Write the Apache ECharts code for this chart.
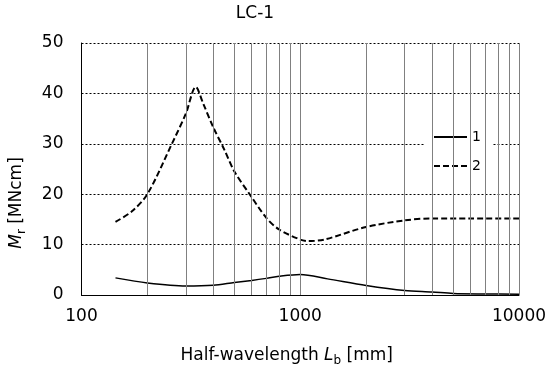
<!DOCTYPE html>
<html>
<head>
<meta charset="utf-8">
<script src="https://cdn.jsdelivr.net/npm/echarts@6/dist/echarts.min.js"></script>
<style>html,body{margin:0;padding:0;background:#fff}#c{width:550px;height:372px}</style>
</head>
<body>
<div id="c"></div>
<script>
// Series 1 (solid)
var L1 = [143, 200, 300, 400, 500, 600, 700, 800, 1000, 1333, 2000, 3000, 4000, 5000, 7000, 10000];
var M1 = [3.4, 2.4, 1.8, 1.95, 2.5, 2.9, 3.3, 3.7, 4.05, 3.2, 1.9, 0.9, 0.6, 0.3, 0.2, 0.15];
// Series 2 (dashed)
var L2 = [143, 170, 200, 259, 300, 333, 360, 400, 450, 500, 587, 700, 800, 1000, 1090, 1290, 2000, 3000, 4000, 6000, 10000];
var M2 = [14.5, 16.6, 20.0, 30.0, 36.0, 41.3, 38.0, 33.3, 28.8, 24.5, 20.0, 15.3, 13.0, 11.0, 10.7, 11.0, 13.5, 14.8, 15.2, 15.2, 15.2];
// Vertical grid lines (log decades)
var vGrid = [200, 300, 400, 500, 600, 700, 800, 900, 1000, 2000, 3000, 4000, 5000, 6000, 7000, 8000, 9000, 10000];
var xTicks = [100, 1000, 10000];
var yTicks = [0, 10, 20, 30, 40, 50];

var FONT = 'DejaVu Sans';
function pairs(xs, ys) { return xs.map(function (x, i) { return [x, ys[i]]; }); }

var chart = echarts.init(document.getElementById('c'), null, {renderer: 'canvas'});
chart.setOption({
  animation: false,
  backgroundColor: '#fff',
  textStyle: {fontFamily: FONT, color: '#000'},
  grid: {left: 79, right: 31, top: 43, bottom: 74},
  graphic: [{
    type: 'text', x: 255, y: 13.5,
    style: {text: 'LC-1', fontFamily: FONT, fontSize: 17, fill: '#000', textAlign: 'center', textVerticalAlign: 'middle'}
  }],
  legend: {
    data: ['1', '2'],
    orient: 'vertical', left: 425, top: 122,
    padding: [8, 12, 6, 8],
    itemWidth: 33, itemHeight: 14, itemGap: 15,
    backgroundColor: '#fff',
    itemStyle: {opacity: 0, borderWidth: 0},
    textStyle: {fontFamily: FONT, fontSize: 14, color: '#000'}
  },
  xAxis: {
    type: 'log', logBase: 10, min: xTicks[0], max: xTicks[xTicks.length - 1],
    axisLine: {show: true, lineStyle: {color: '#000', width: 1}},
    axisTick: {show: false},
    splitLine: {show: false},
    axisLabel: {fontFamily: FONT, fontSize: 17, color: '#000', margin: 13,
      formatter: function (v) { return String(Math.round(v)); }},
    name: 'Half-wavelength {i|L}{s|b} [mm]',
    nameLocation: 'middle', nameGap: 50,
    nameTextStyle: {fontFamily: FONT, fontSize: 17, color: '#000', padding: [0, 27, 0, 0],
      rich: {i: {fontFamily: FONT, fontSize: 17, fontStyle: 'italic', color: '#000'},
             s: {fontFamily: FONT, fontSize: 12, color: '#000', padding: [10, 0, 0, 0]}}}
  },
  yAxis: {
    type: 'value', min: yTicks[0], max: yTicks[yTicks.length - 1], interval: 10,
    axisLine: {show: true, lineStyle: {color: '#000', width: 1}},
    axisTick: {show: false},
    splitLine: {show: true, lineStyle: {color: '#000', width: 1, type: [2, 2]}},
    axisLabel: {fontFamily: FONT, fontSize: 17, color: '#000', margin: 18},
    name: '{i|M}{s|r} [MNcm]',
    nameLocation: 'middle', nameGap: 54,
    nameTextStyle: {fontFamily: FONT, fontSize: 17, color: '#000', padding: [0, 68, 0, 0],
      rich: {i: {fontFamily: FONT, fontSize: 17, fontStyle: 'italic', color: '#000'},
             s: {fontFamily: FONT, fontSize: 12, color: '#000', padding: [10, 0, 0, 0]}}}
  },
  series: [
    {
      name: 'grid', type: 'line', data: [], z: 1, silent: true,
      markLine: {
        silent: true, symbol: ['none', 'none'], label: {show: false},
        lineStyle: {type: 'solid', color: '#808080', width: 1},
        emphasis: {disabled: true},
        data: vGrid.map(function (v) { return {xAxis: v}; })
      }
    },
    {
      name: '1', type: 'line', z: 3, data: pairs(L1, M1), symbol: 'none', smooth: 0.3,
      lineStyle: {color: '#000', width: 1.5, type: 'solid'}, itemStyle: {color: '#000'}
    },
    {
      name: '2', type: 'line', z: 3, data: pairs(L2, M2), symbol: 'none', smooth: 0.3,
      lineStyle: {color: '#000', width: 2, type: [6, 3]}, itemStyle: {color: '#000'}
    }
  ]
});
</script>
</body>
</html>
